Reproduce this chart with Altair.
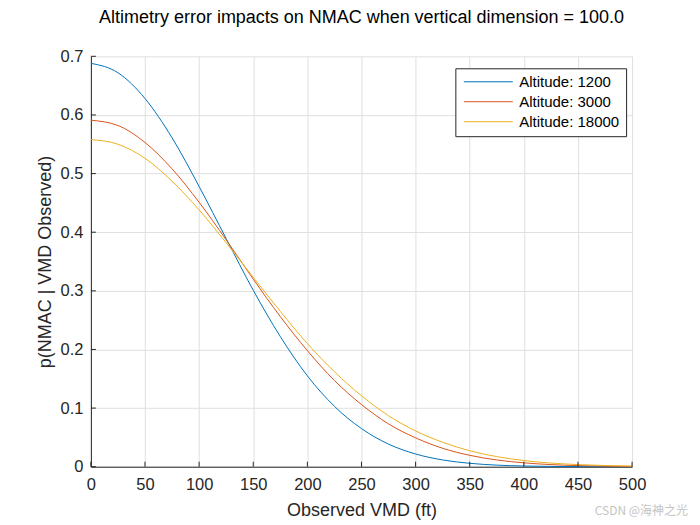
import altair as alt
import pandas as pd

# Observed VMD (ft)
vmd = [0, 25, 50, 75, 100, 125, 150, 175, 200, 225, 250, 275, 300, 325, 350, 375, 400, 425, 450, 475, 500]

# p(NMAC | VMD observed)
alt_1200 = [0.688, 0.672, 0.628, 0.561, 0.478, 0.389, 0.301, 0.222, 0.155, 0.103, 0.065, 0.0385, 0.0217,
            0.0115, 0.0058, 0.0027, 0.0012, 0.0005, 0.0002, 0.0001, 0.0]
alt_3000 = [0.591, 0.582, 0.553, 0.508, 0.451, 0.387, 0.320, 0.256, 0.198, 0.147, 0.106, 0.073, 0.0492,
            0.0314, 0.0194, 0.0115, 0.0066, 0.0036, 0.0019, 0.0010, 0.0005]
alt_18000 = [0.558, 0.550, 0.526, 0.487, 0.438, 0.382, 0.323, 0.265, 0.210, 0.162, 0.121, 0.087, 0.061,
             0.0417, 0.0272, 0.0172, 0.0105, 0.0062, 0.0036, 0.0020, 0.0010]

series_names = ["Altitude: 1200", "Altitude: 3000", "Altitude: 18000"]
series_colors = ["#0072BD", "#D95319", "#EDB120"]

x_ticks = [0, 50, 100, 150, 200, 250, 300, 350, 400, 450, 500]
y_ticks = [0, 0.1, 0.2, 0.3, 0.4, 0.5, 0.6, 0.7]

watermark = ["CSDN @海神之光"]

rows = []
for name, vals in zip(series_names, [alt_1200, alt_3000, alt_18000]):
    for xv, pv in zip(vmd, vals):
        rows.append({"vmd": xv, "p": pv, "series": name})
df = pd.DataFrame(rows)

W, H = 542, 411
FONT = "Liberation Sans"
TXT = "#262626"

x_scale = alt.Scale(domain=[0, 500], nice=False, zero=False)
y_scale = alt.Scale(domain=[0, 0.7], nice=False, zero=False)

lines = alt.Chart(df).mark_line(strokeWidth=1, interpolate="monotone").encode(
    x=alt.X("vmd:Q", scale=x_scale,
            axis=alt.Axis(values=x_ticks, title="Observed VMD (ft)", grid=True, ticks=False,
                          labelFlush=False, labelPadding=10, titlePadding=8, format="d")),
    y=alt.Y("p:Q", scale=y_scale,
            axis=alt.Axis(values=y_ticks, title="p(NMAC | VMD Observed)", grid=True, ticks=False,
                          labelFlush=False, labelPadding=8, titlePadding=5,
                          labelExpr="datum.value == 0 ? '0' : format(datum.value, '.1f')")),
    color=alt.Color("series:N",
                    scale=alt.Scale(domain=series_names, range=series_colors),
                    legend=alt.Legend(title=None, orient="none", legendX=365, legendY=12,
                                      direction="vertical",
                                      symbolType="M-1,0L8.8,0", symbolSize=100,
                                      symbolStrokeWidth=1, labelOffset=43,
                                      labelFont=FONT, labelFontSize=15, labelColor="#000000",
                                      rowPadding=4, padding=6,
                                      strokeColor="#262626", fillColor="#ffffff")),
)

xt = pd.DataFrame({"t": x_ticks})
yt = pd.DataFrame({"t": y_ticks})
xtick_marks = alt.Chart(xt).mark_rule(color=TXT, strokeWidth=1).encode(
    x=alt.X("t:Q", scale=x_scale), y=alt.value(H), y2=alt.value(H - 5))
ytick_marks = alt.Chart(yt).mark_rule(color=TXT, strokeWidth=1).encode(
    y=alt.Y("t:Q", scale=y_scale), x=alt.value(0), x2=alt.value(5))

wm = alt.Chart(pd.DataFrame({"t": watermark})).mark_text(
    font="Noto Sans CJK SC", fontSize=12, color="#c4c4c4", align="right", baseline="middle"
).encode(text="t:N", x=alt.value(W + 56), y=alt.value(H + 44))

chart = alt.layer(lines, xtick_marks, ytick_marks, wm).properties(
    width=W, height=H,
    title=alt.Title("Altimetry error impacts on NMAC when vertical dimension = 100.0",
                    font=FONT, fontSize=18, fontWeight="normal", color="#000000",
                    anchor="middle", offset=21),
    autosize=alt.AutoSizeParams(type="none"),
    padding={"left": 83, "top": 48, "right": 60, "bottom": 60},
).configure_view(stroke=None).configure_axis(
    labelFont=FONT, titleFont=FONT, labelFontSize=16.5, titleFontSize=18,
    labelColor=TXT, titleColor=TXT, titleFontWeight="normal",
    domainColor=TXT, domainWidth=1, gridColor="#dfdfdf", gridWidth=1,
).configure_axisX(labelBaseline="top").configure_axisY(labelAlign="right", labelBaseline="middle")

chart.save("out.html", embed_options={"renderer": "svg", "actions": False})
